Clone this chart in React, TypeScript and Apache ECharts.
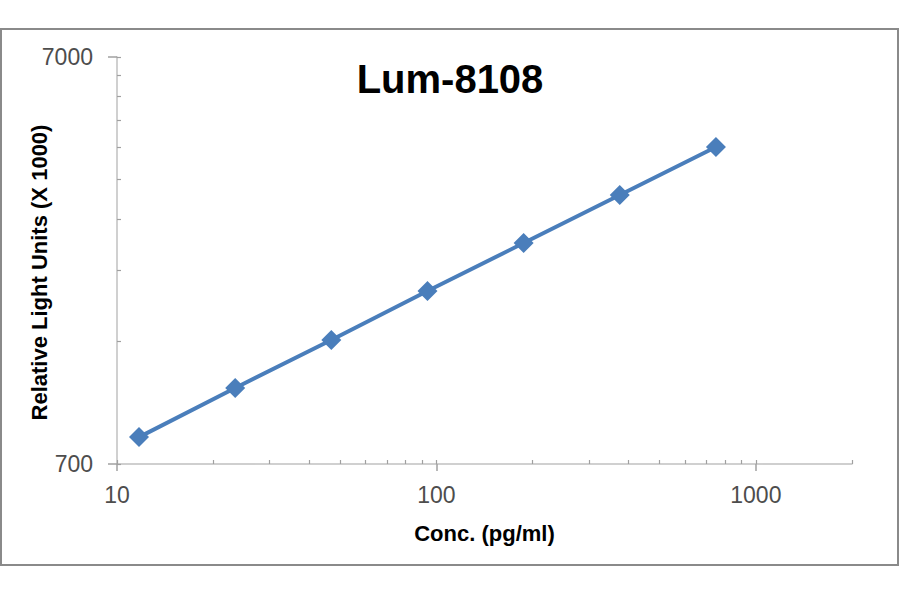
import React, { useEffect, useRef } from "react";
import * as echarts from "echarts";

const concentrations = [11.72, 23.44, 46.88, 93.75, 187.5, 375, 750];
const rluValues = [815, 1076, 1412, 1862, 2443, 3206, 4207];

const xMajorTicks = [10, 100, 1000];
const xAllTicks = [10, 20, 30, 40, 50, 60, 70, 80, 90, 100, 200, 300, 400, 500, 600, 700, 800, 900, 1000, 2000];
const yMajorTicks = [700, 7000];
const yMinorTicks = [700, 1400, 2100, 2800, 3500, 4200, 4900, 5600, 6300, 7000];

const FONT = "'Liberation Sans', Arial, sans-serif";

export default function App() {
  const ref = useRef<HTMLDivElement>(null);
  useEffect(() => {
    if (!ref.current) return;
    const chart = echarts.init(ref.current, null, { renderer: "svg" });
    const axisLineColor = "#c0c0c0";
    const tickColor = "#a0a0a0";
    const plain = (v: number) => String(Math.round(v));
    chart.setOption({
      animation: false,
      backgroundColor: "#ffffff",
      title: {
        text: "Lum-8108",
        left: "center",
        top: 54,
        textStyle: { fontFamily: FONT, fontWeight: "bold", fontSize: 40, color: "#000000" },
      },
      graphic: [
        {
          type: "rect",
          shape: { x: 1, y: 29, width: 897, height: 536 },
          style: { fill: "none", stroke: "#8a8a8a", lineWidth: 2 },
          silent: true,
        },
      ],
      grid: { left: 117, right: 48, top: 57, bottom: 130 },
      xAxis: [
        {
          type: "log",
          logBase: 10,
          min: 10,
          max: 2000,
          name: "Conc. (pg/ml)",
          nameLocation: "middle",
          nameGap: 58,
          nameMoveOverlap: false,
          nameTextStyle: { fontFamily: FONT, fontWeight: "bold", fontSize: 22, color: "#000000" },
          axisLine: { show: true, lineStyle: { color: axisLineColor, width: 1.5 } },
          axisTick: { show: true, customValues: xMajorTicks, length: 7, lineStyle: { color: tickColor, width: 1.5 } },
          axisLabel: {
            customValues: xMajorTicks,
            formatter: plain,
            margin: 19,
            fontFamily: FONT,
            fontSize: 23,
            color: "#4d4d4d",
          },
          splitLine: { show: false },
          minorTick: { show: false },
        },
        {
          type: "log",
          logBase: 10,
          min: 10,
          max: 2000,
          position: "bottom",
          axisLine: { show: false },
          axisTick: { show: true, inside: true, customValues: xAllTicks, length: 4, lineStyle: { color: tickColor, width: 1.2 } },
          axisLabel: { show: false },
          splitLine: { show: false },
        },
      ],
      yAxis: [
        {
          type: "log",
          logBase: 10,
          min: 700,
          max: 7000,
          name: "Relative Light Units (X 1000)",
          nameLocation: "middle",
          nameGap: 67,
          nameMoveOverlap: false,
          nameTextStyle: {
            fontFamily: FONT,
            fontWeight: "bold",
            fontSize: 22,
            color: "#000000",
            padding: [0, 24, 0, 0],
          },
          axisLine: { show: true, lineStyle: { color: axisLineColor, width: 1.5 } },
          axisTick: { show: true, customValues: yMajorTicks, length: 9, lineStyle: { color: tickColor, width: 1.5 } },
          axisLabel: {
            customValues: yMajorTicks,
            formatter: plain,
            margin: 24,
            fontFamily: FONT,
            fontSize: 23,
            color: "#4d4d4d",
          },
          splitLine: { show: false },
        },
        {
          type: "log",
          logBase: 10,
          min: 700,
          max: 7000,
          position: "left",
          axisLine: { show: false },
          axisTick: { show: true, inside: true, customValues: yMinorTicks, length: 4, lineStyle: { color: tickColor, width: 1.2 } },
          axisLabel: { show: false },
          splitLine: { show: false },
        },
      ],
      series: [
        {
          type: "line",
          xAxisIndex: 0,
          yAxisIndex: 0,
          data: concentrations.map((c, i) => [c, rluValues[i]]),
          symbol: "diamond",
          symbolSize: 20,
          lineStyle: { color: "#4a7ebb", width: 4 },
          itemStyle: { color: "#4a7ebb" },
        },
      ],
    });
    return () => chart.dispose();
  }, []);
  return (
    <div
      ref={ref}
      style={{ position: "absolute", left: 0, top: 0, width: 900, height: 594 }}
    />
  );
}
